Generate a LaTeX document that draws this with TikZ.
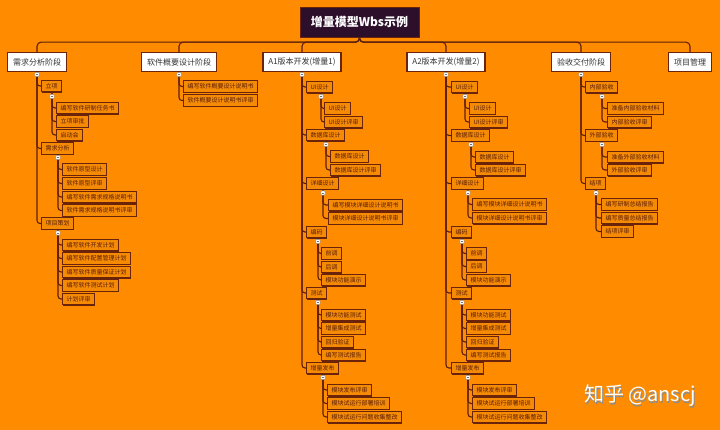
\documentclass[tikz,border=0pt]{standalone}
\usepackage{fontspec}
\setmainfont{Noto Sans CJK SC}
\usetikzlibrary{shadows}
\definecolor{bg}{HTML}{FF8C00}
\definecolor{boxc}{HTML}{F58A05}
\definecolor{bc}{HTML}{6B2409}
\definecolor{lc}{HTML}{5E1F0C}
\definecolor{tc}{HTML}{5A1E0A}
\definecolor{rootc}{HTML}{2D0E2B}
\newcommand\myl[2]{\draw[conn] ([yshift=3pt]#1) |- (#2.west);}
\begin{document}
\begin{tikzpicture}[x=1pt,y=-1pt,
  conn/.style={draw=lc,line width=1.1pt,rounded corners=3pt},
  lv/.style={draw=bc,fill=boxc,line width=1pt,font=\fontsize{6}{7}\selectfont,text=tc,
    inner xsep=4pt,inner ysep=0pt,minimum height=11.5pt,anchor=west,
    drop shadow={shadow xshift=0.9pt,shadow yshift=-0.9pt,opacity=1,fill=bc}},
  topn/.style={draw=bc,fill=white,line width=1.2pt,font=\fontsize{8}{9}\selectfont,text=black!80,
    inner xsep=5.5pt,inner ysep=0pt,minimum height=19pt,anchor=north,
    drop shadow={shadow xshift=0.9pt,shadow yshift=-0.9pt,opacity=1,fill=bc}},
  mk/.style={draw=black!45,fill=white,minimum size=4.2pt,inner sep=0pt,rounded corners=0.8pt}]
\fill[bg] (0,0) rectangle (720,430);
\useasboundingbox (0,0) rectangle (720,430);

% root
\node[fill=rootc,draw=bc,minimum width=119pt,minimum height=30pt,inner sep=0pt,
  text=white,font=\fontsize{12}{14}\selectfont\bfseries] (root) at (359.5,22) {增量模型Wbs示例};

% level 1
\node[topn] (A) at (37,52) {需求分析阶段};
\node[topn] (B) at (179,52) {软件概要设计阶段};
\node[topn] (C) at (302,52) {A1版本开发(增量1)};
\node[topn] (D) at (446,52) {A2版本开发(增量2)};
\node[topn] (E) at (581,52) {验收交付阶段};
\node[topn] (F) at (690,52) {项目管理};

% markers (coordinates)
\coordinate (mA) at (37,74.5);
\coordinate (mB) at (179,74.5);
\coordinate (mC) at (302,74.5);
\coordinate (mD) at (446,74.5);
\coordinate (mE) at (581,74.5);

% A children
\node[lv] (a1) at (41,86) {立项};
\coordinate (ma1) at (52,96.5);
\node[lv] (a11) at (56,108) {编写软件研制任务书};
\node[lv] (a12) at (56,121.5) {立项审批};
\node[lv] (a13) at (56,135) {启动会};
\node[lv] (a2) at (41,148.5) {需求分析};
\coordinate (ma2) at (58,157.5);
\node[lv] (a21) at (62,169.5) {软件原型设计};
\node[lv] (a22) at (62,183.5) {软件原型评审};
\node[lv] (a23) at (62,197) {编写软件需求规格说明书};
\node[lv] (a24) at (62,210.5) {软件需求规格说明书评审};
\node[lv] (a3) at (41,223.5) {项目策划};
\coordinate (ma3) at (58,233);
\node[lv] (a31) at (62,245) {编写软件开发计划};
\node[lv] (a32) at (62,258.5) {编写软件配置管理计划};
\node[lv] (a33) at (62,272) {编写软件质量保证计划};
\node[lv] (a34) at (62,285.5) {编写软件测试计划};
\node[lv] (a35) at (62,299) {计划评审};

% B children
\node[lv] (b1) at (183,86.5) {编写软件概要设计说明书};
\node[lv] (b2) at (183,100.5) {软件概要设计说明书评审};

% C children
\node[lv] (c1) at (306,87) {UI设计};
\coordinate (mc1) at (321,96.5);
\node[lv] (c11) at (324,108.5) {UI设计};
\node[lv] (c12) at (324,122) {UI设计评审};
\node[lv] (c2) at (306,135) {数据库设计};
\coordinate (mc2) at (326,144.5);
\node[lv] (c21) at (330,156.5) {数据库设计};
\node[lv] (c22) at (330,170) {数据库设计评审};
\node[lv] (c3) at (306,183.5) {详细设计};
\coordinate (mc3) at (323,193);
\node[lv] (c31) at (328,205) {编写模块详细设计说明书};
\node[lv] (c32) at (328,218.5) {模块详细设计说明书评审};
\node[lv] (c4) at (306,232) {编码};
\coordinate (mc4) at (318,241.5);
\node[lv] (c41) at (321,253.5) {前调};
\node[lv] (c42) at (321,267) {后调};
\node[lv] (c43) at (321,280) {模块功能演示};
\node[lv] (c5) at (306,293) {测试};
\coordinate (mc5) at (318,302.5);
\node[lv] (c51) at (321,315) {模块功能测试};
\node[lv] (c52) at (321,328.5) {增量集成测试};
\node[lv] (c53) at (321,342) {回归验证};
\node[lv] (c54) at (321,355) {编写测试报告};
\node[lv] (c6) at (306,368) {增量发布};
\coordinate (mc6) at (323,377.5);
\node[lv] (c61) at (327,390) {模块发布评审};
\node[lv] (c62) at (327,403.5) {模块试运行部署培训};
\node[lv] (c63) at (327,417) {模块试运行问题收集整改};

% D children
\node[lv] (d1) at (451,87) {UI设计};
\coordinate (md1) at (465,96.5);
\node[lv] (d11) at (469,108.5) {UI设计};
\node[lv] (d12) at (469,122) {UI设计评审};
\node[lv] (d2) at (451,135.5) {数据库设计};
\coordinate (md2) at (471,144.5);
\node[lv] (d21) at (475,157) {数据库设计};
\node[lv] (d22) at (475,170) {数据库设计评审};
\node[lv] (d3) at (451,183.5) {详细设计};
\coordinate (md3) at (468,193);
\node[lv] (d31) at (472,204.5) {编写模块详细设计说明书};
\node[lv] (d32) at (472,218) {模块详细设计说明书评审};
\node[lv] (d4) at (451,232) {编码};
\coordinate (md4) at (462,241.5);
\node[lv] (d41) at (466,253.5) {前调};
\node[lv] (d42) at (466,266.5) {后调};
\node[lv] (d43) at (466,280) {模块功能演示};
\node[lv] (d5) at (451,293) {测试};
\coordinate (md5) at (462,302.5);
\node[lv] (d51) at (466,315) {模块功能测试};
\node[lv] (d52) at (466,328.5) {增量集成测试};
\node[lv] (d53) at (466,342) {回归验证};
\node[lv] (d54) at (466,355) {编写测试报告};
\node[lv] (d6) at (451,368) {增量发布};
\coordinate (md6) at (468,377.5);
\node[lv] (d61) at (472,390) {模块发布评审};
\node[lv] (d62) at (472,403.5) {模块试运行部署培训};
\node[lv] (d63) at (472,417) {模块试运行问题收集整改};

% E children
\node[lv] (e1) at (585,87) {内部验收};
\coordinate (me1) at (602,96.5);
\node[lv] (e11) at (607,108.5) {准备内部验收材料};
\node[lv] (e12) at (607,122) {内部验收评审};
\node[lv] (e2) at (585,135.5) {外部验收};
\coordinate (me2) at (602,144.5);
\node[lv] (e21) at (607,157) {准备外部验收材料};
\node[lv] (e22) at (607,170) {外部验收评审};
\node[lv] (e3) at (585,183.5) {结项};
\coordinate (me3) at (596,193);
\node[lv] (e31) at (601,204.5) {编写研制总结报告};
\node[lv] (e32) at (601,218) {编写质量总结报告};
\node[lv] (e33) at (601,231.5) {结项评审};

% bus connectors
\foreach \n in {A,B,C,D,E,F}{\draw[conn,rounded corners=4pt] (root.south) -- ++(0,5) -| (\n.north);}

% level connectors
\foreach \c in {a1,a2,a3}{\myl{mA}{\c}}
\foreach \c in {a11,a12,a13}{\myl{ma1}{\c}}
\foreach \c in {a21,a22,a23,a24}{\myl{ma2}{\c}}
\foreach \c in {a31,a32,a33,a34,a35}{\myl{ma3}{\c}}
\foreach \c in {b1,b2}{\myl{mB}{\c}}
\foreach \c in {c1,c2,c3,c4,c5,c6}{\myl{mC}{\c}}
\foreach \c in {c11,c12}{\myl{mc1}{\c}}
\foreach \c in {c21,c22}{\myl{mc2}{\c}}
\foreach \c in {c31,c32}{\myl{mc3}{\c}}
\foreach \c in {c41,c42,c43}{\myl{mc4}{\c}}
\foreach \c in {c51,c52,c53,c54}{\myl{mc5}{\c}}
\foreach \c in {c61,c62,c63}{\myl{mc6}{\c}}
\foreach \c in {d1,d2,d3,d4,d5,d6}{\myl{mD}{\c}}
\foreach \c in {d11,d12}{\myl{md1}{\c}}
\foreach \c in {d21,d22}{\myl{md2}{\c}}
\foreach \c in {d31,d32}{\myl{md3}{\c}}
\foreach \c in {d41,d42,d43}{\myl{md4}{\c}}
\foreach \c in {d51,d52,d53,d54}{\myl{md5}{\c}}
\foreach \c in {d61,d62,d63}{\myl{md6}{\c}}
\foreach \c in {e1,e2,e3}{\myl{mE}{\c}}
\foreach \c in {e11,e12}{\myl{me1}{\c}}
\foreach \c in {e21,e22}{\myl{me2}{\c}}
\foreach \c in {e31,e32,e33}{\myl{me3}{\c}}

% marker boxes
\foreach \m in {mA,mB,mC,mD,mE,ma1,ma2,ma3,mc1,mc2,mc3,mc4,mc5,mc6,md1,md2,md3,md4,md5,md6,me1,me2,me3}{
  \node[mk] at (\m) {};
  \draw[black!55,line width=0.4pt] ([xshift=-1.2pt]\m) -- ([xshift=1.2pt]\m);
}

% watermark
\node[font=\fontsize{20}{24}\selectfont,text=black!45] at (641.2,397.2) {知乎 @anscj};
\node[font=\fontsize{20}{24}\selectfont,text=white] (wm) at (640,396) {知乎 @anscj};
\end{tikzpicture}
\end{document}
